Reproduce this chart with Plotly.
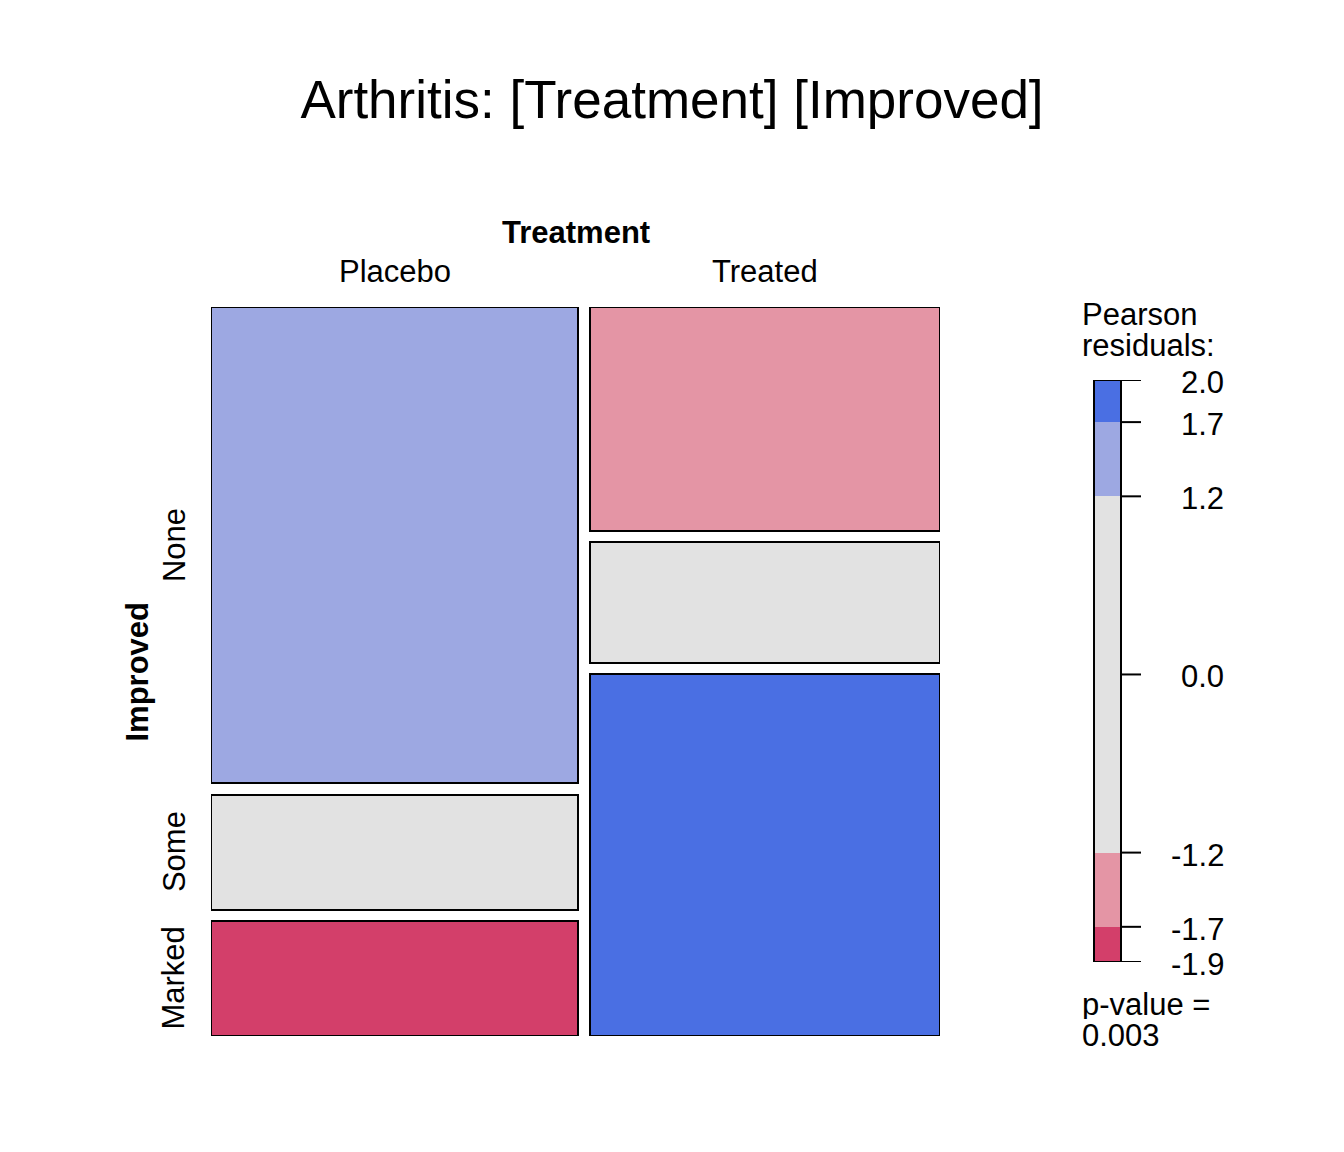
import numpy as np
import plotly.graph_objects as go

# ---- data ----
treatment = ["Placebo", "Treated"]
improved = ["None", "Some", "Marked"]
placebo_counts = [29, 7, 7]
treated_counts = [13, 7, 21]
legend_breaks = [1.7, 1.2, 0.0, -1.2, -1.7]
p_value_text = "0.003"

counts = np.array([placebo_counts, treated_counts], dtype=float)
total = counts.sum()
row_tot = counts.sum(axis=1, keepdims=True)
col_tot = counts.sum(axis=0, keepdims=True)
expected = row_tot * col_tot / total
resid = (counts - expected) / np.sqrt(expected)

# colours (vcd shading_hcl-like)
C_POS2 = "#4A6FE3"
C_POS1 = "#9DA8E2"
C_NEU = "#E2E2E2"
C_NEG1 = "#E495A5"
C_NEG2 = "#D33F6A"

def shade(r):
    if r > 1.7:
        return C_POS2
    if r > 1.2:
        return C_POS1
    if r < -1.7:
        return C_NEG2
    if r < -1.2:
        return C_NEG1
    return C_NEU

W, H = 1344, 1152
px0, px1 = 211, 940
py0, py1 = 307, 1036
gap_x = 12 / (px1 - px0)
gap_y = 11.5 / (py1 - py0)

fig = go.Figure()

# mosaic tiles
col_w = (1 - gap_x) * row_tot.flatten() / total
x_left = [0.0, col_w[0] + gap_x]
label_y = {}
for i, t in enumerate(treatment):
    avail = 1 - gap_y * (len(improved) - 1)
    heights = avail * counts[i] / row_tot[i, 0]
    top = 1.0
    xs, bases, hs, cols, texts = [], [], [], [], []
    for j, lev in enumerate(improved):
        h = heights[j]
        base = top - h
        xs.append(x_left[i] + col_w[i] / 2)
        bases.append(base)
        hs.append(h)
        cols.append(shade(resid[i, j]))
        texts.append(f"{t} / {lev}: n={int(counts[i, j])}, r={resid[i, j]:.2f}")
        if i == 0:
            label_y[lev] = base + h / 2
        top = base - gap_y
    fig.add_trace(go.Bar(
        x=xs, y=hs, base=bases, width=[col_w[i]] * len(xs),
        marker=dict(color=cols, line=dict(color="black", width=2)),
        hovertext=texts, hoverinfo="text", showlegend=False,
        xaxis="x", yaxis="y",
    ))

# legend colour bar
rmax = float(resid.max())
rmin = float(resid.min())
seg_edges = [rmin, -1.7, -1.2, 1.2, 1.7, rmax]
seg_cols = [C_NEG2, C_NEG1, C_NEU, C_POS1, C_POS2]
fig.add_trace(go.Bar(
    x=[0.5] * 5,
    y=[seg_edges[k + 1] - seg_edges[k] for k in range(5)],
    base=seg_edges[:-1],
    width=[1.0] * 5,
    marker=dict(color=seg_cols, line=dict(width=0)),
    hoverinfo="skip", showlegend=False,
    xaxis="x2", yaxis="y2",
))

LB0, LB1 = 1094, 1121
fig.add_shape(type="rect", xref="paper", yref="y2", x0=LB0 / W, x1=LB1 / W, y0=rmin, y1=rmax,
              line=dict(color="black", width=2), layer="above")

tick_vals = [rmax] + legend_breaks + [rmin]
for v in tick_vals:
    fig.add_shape(type="line", xref="paper", yref="y2", x0=LB1 / W, x1=1141 / W, y0=v, y1=v,
                  line=dict(color="black", width=2))
    fig.add_annotation(xref="paper", yref="y2", x=1226 / W, y=v, yshift=-2,
                       text=f"{v:.1f}", showarrow=False, xanchor="right", yanchor="middle",
                       height=30, font=dict(size=31, color="black"))

FONT = "Liberation Sans, Arial, sans-serif"

def ann(text, x, y, xref="paper", yref="paper", **kw):
    fig.add_annotation(text=text, x=x, y=y, xref=xref, yref=yref, showarrow=False, **kw)

ann("<b>Treatment</b>", 0.5, 1 - 233 / H, xref="x domain", yanchor="middle",
    font=dict(size=31, color="black"))
for i, t in enumerate(treatment):
    ann(t, x_left[i] + col_w[i] / 2, 1 - 271 / H, xref="x", yanchor="middle",
        font=dict(size=31, color="black"))
ann("<b>Improved</b>", 137 / W, 0.5, yref="y domain", xanchor="center",
    textangle=-90, font=dict(size=31, color="black"))
for lev in improved:
    ann(lev, 174 / W, label_y[lev], yref="y", xanchor="center",
        textangle=-90, font=dict(size=31, color="black"))

for txt, py in [("Pearson", 314), ("residuals:", 345), ("p-value =", 1004), (p_value_text, 1035)]:
    ann(txt, 1080 / W, 1 - py / H, xanchor="left", yanchor="middle", height=30,
        font=dict(size=31, color="black"))

fig.update_layout(
    width=W, height=H,
    margin=dict(l=0, r=0, t=0, b=0),
    paper_bgcolor="white", plot_bgcolor="white",
    font=dict(family=FONT, color="black"),
    barmode="overlay", bargap=0,
    title=dict(text="Arthritis: [Treatment] [Improved]", x=0.5, xanchor="center",
               y=1 - 99 / H, yanchor="middle", font=dict(size=53, color="black")),
    xaxis=dict(domain=[px0 / W, px1 / W], range=[0, 1], visible=False, fixedrange=True),
    yaxis=dict(domain=[1 - py1 / H, 1 - py0 / H], range=[0, 1], visible=False, fixedrange=True),
    xaxis2=dict(domain=[LB0 / W, LB1 / W], range=[0, 1], visible=False, fixedrange=True),
    yaxis2=dict(domain=[1 - 962 / H, 1 - 380 / H], range=[rmin, rmax], visible=False,
                fixedrange=True, anchor="x2"),
    showlegend=False,
)
fig.update_xaxes(showgrid=False, zeroline=False)
fig.update_yaxes(showgrid=False, zeroline=False)

fig.write_html("out.html")
